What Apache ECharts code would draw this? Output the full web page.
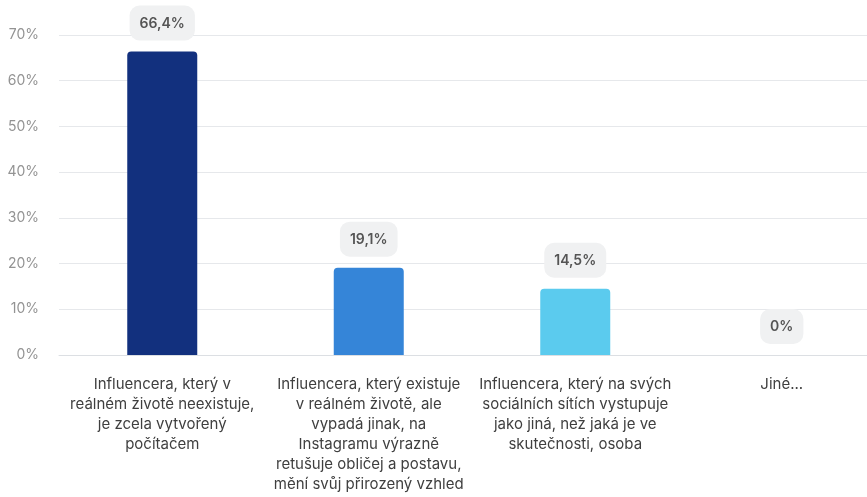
<!DOCTYPE html>
<html>
<head>
<meta charset="utf-8">
<script src="https://cdn.jsdelivr.net/npm/echarts@6/dist/echarts.min.js"></script>
<style>
  html, body { margin: 0; padding: 0; background: #ffffff; overflow: hidden; }
  /* canvas runs past the right edge of the window, so the last column is cut */
  #chart { width: 885px; height: 497px; }
</style>
</head>
<body>
<div id="chart"></div>
<script>
// Survey answers (category labels, pre-wrapped) and share of respondents in %
const categories = [
  'Influencera, který v\nreálném životě neexistuje,\nje zcela vytvořený\npočítačem',
  'Influencera, který existuje\nv reálném životě, ale\nvypadá jinak, na\nInstagramu výrazně\nretušuje obličej a postavu,\nmění svůj přirozený vzhled',
  'Influencera, který na svých\nsociálních sítích vystupuje\njako jiná, než jaká je ve\nskutečnosti, osoba',
  'Jiné...'
];
const values = [66.4, 19.1, 14.5, 0];
const barColors = ['#12307e', '#3585d8', '#5bcbee', '#b9b9b9'];

const chart = echarts.init(document.getElementById('chart'), null, { renderer: 'canvas' });

chart.setOption({
  animation: false,
  textStyle: { fontFamily: 'Inter, "Noto Sans", sans-serif' },
  grid: { left: 59, right: 0, top: 35, bottom: 142, containLabel: false },
  xAxis: {
    type: 'category',
    data: categories,
    axisTick: { show: false },
    axisLine: { show: true, lineStyle: { color: '#dcdfe3', width: 1 } },
    axisLabel: {
      interval: 0,
      margin: 19,
      color: '#3f3f3f',
      fontSize: 15,
      lineHeight: 20,
      align: 'center'
    }
  },
  yAxis: {
    type: 'value',
    min: 0,
    max: 70,
    interval: 10,
    axisLine: { show: false },
    axisTick: { show: false },
    splitLine: { lineStyle: { color: '#e6e8eb', width: 1 } },
    axisLabel: {
      formatter: '{value}%',
      color: '#939393',
      fontSize: 14,
      margin: 20
    }
  },
  series: [{
    type: 'bar',
    barWidth: 70,
    data: values.map((v, i) => ({
      value: v,
      itemStyle: { color: barColors[i], borderRadius: [4, 4, 0, 0] }
    })),
    label: {
      show: true,
      position: 'top',
      distance: 11,
      formatter: (p) => String(p.value).replace('.', ',') + '%',
      color: '#555555',
      fontSize: 14,
      fontWeight: 600,
      backgroundColor: '#f0f1f2',
      borderRadius: 10,
      padding: [11, 10, 10, 10]
    }
  }]
});
</script>
</body>
</html>
